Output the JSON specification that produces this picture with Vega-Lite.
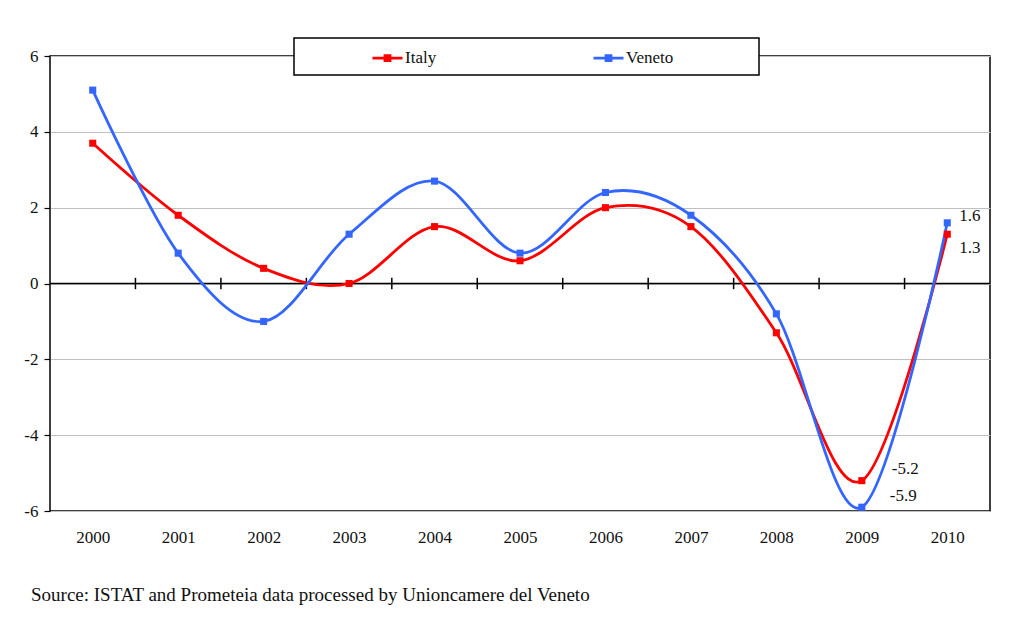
{
  "$schema": "https://vega.github.io/schema/vega-lite/v6.json",
  "width": 940,
  "height": 455,
  "autosize": "none",
  "padding": {"left": 50, "top": 56, "right": 31, "bottom": 117},
  "background": "white",
  "config": {
    "view": {"stroke": "#000", "strokeWidth": 1.5},
    "font": "Liberation Serif",
    "axis": {"labelFont": "Liberation Serif", "labelFontSize": 17, "labelColor": "#111"},
    "legend": {"labelFont": "Liberation Serif"},
    "text": {"font": "Liberation Serif"}
  },
  "title": {
    "text": "Source: ISTAT and Prometeia data processed by Unioncamere del Veneto",
    "orient": "bottom",
    "anchor": "start",
    "frame": "group",
    "dx": -19,
    "offset": 41,
    "fontSize": 19,
    "font": "Liberation Serif",
    "fontWeight": "normal",
    "color": "#111"
  },
  "datasets": {
    "series": [
      {"year": 2000, "series": "Italy", "value": 3.7},
      {"year": 2001, "series": "Italy", "value": 1.8},
      {"year": 2002, "series": "Italy", "value": 0.4},
      {"year": 2003, "series": "Italy", "value": 0.0},
      {"year": 2004, "series": "Italy", "value": 1.5},
      {"year": 2005, "series": "Italy", "value": 0.6},
      {"year": 2006, "series": "Italy", "value": 2.0},
      {"year": 2007, "series": "Italy", "value": 1.5},
      {"year": 2008, "series": "Italy", "value": -1.3},
      {"year": 2009, "series": "Italy", "value": -5.2},
      {"year": 2010, "series": "Italy", "value": 1.3},
      {"year": 2000, "series": "Veneto", "value": 5.1},
      {"year": 2001, "series": "Veneto", "value": 0.8},
      {"year": 2002, "series": "Veneto", "value": -1.0},
      {"year": 2003, "series": "Veneto", "value": 1.3},
      {"year": 2004, "series": "Veneto", "value": 2.7},
      {"year": 2005, "series": "Veneto", "value": 0.8},
      {"year": 2006, "series": "Veneto", "value": 2.4},
      {"year": 2007, "series": "Veneto", "value": 1.8},
      {"year": 2008, "series": "Veneto", "value": -0.8},
      {"year": 2009, "series": "Veneto", "value": -5.9},
      {"year": 2010, "series": "Veneto", "value": 1.6}
    ],
    "ticks": [
      {"b": 2000.5}, {"b": 2001.5}, {"b": 2002.5}, {"b": 2003.5}, {"b": 2004.5},
      {"b": 2005.5}, {"b": 2006.5}, {"b": 2007.5}, {"b": 2008.5}, {"b": 2009.5}
    ]
  },
  "layer": [
    {
      "data": {"name": "ticks"},
      "mark": {"type": "rule", "color": "#000", "strokeWidth": 1.5},
      "encoding": {
        "x": {"field": "b", "type": "quantitative", "title": null,
          "scale": {"domain": [1999.5, 2010.5], "nice": false, "zero": false},
          "axis": {"values": [2000, 2001, 2002, 2003, 2004, 2005, 2006, 2007, 2008, 2009, 2010],
            "format": "d", "ticks": false, "domain": false, "grid": false, "labelPadding": 18,
            "labelFontSize": 17, "labelFont": "Liberation Serif", "labelColor": "#111", "title": null}},
        "y": {"datum": -0.15, "type": "quantitative", "title": null,
          "scale": {"domain": [-6, 6], "nice": false, "zero": false},
          "axis": {"values": [-6, -4, -2, 0, 2, 4, 6], "grid": true, "gridColor": "#c0c0c0", "gridWidth": 1,
            "domain": false, "tickColor": "#000", "tickSize": 6, "tickWidth": 1.2, "labelPadding": 6,
            "labelExpr": "replace(datum.label, '\u2212', '-')",
            "labelFontSize": 17, "labelFont": "Liberation Serif", "labelColor": "#111", "title": null}},
        "y2": {"datum": 0.15}
      }
    },
    {
      "data": {"values": [{"v": 0}]},
      "mark": {"type": "rule", "color": "#000", "strokeWidth": 1.5},
      "encoding": {
        "y": {"field": "v", "type": "quantitative", "title": null}
      }
    },
    {
      "data": {"name": "series"},
      "mark": {"type": "line", "interpolate": "cardinal", "tension": 0, "strokeWidth": 2.8},
      "encoding": {
        "x": {"field": "year", "type": "quantitative", "title": null},
        "y": {"field": "value", "type": "quantitative", "title": null},
        "color": {"field": "series", "type": "nominal",
          "scale": {"domain": ["Italy", "Veneto"], "range": ["#ff0000", "#3366ff"]},
          "legend": {
            "orient": "none", "legendX": 244, "legendY": -18, "direction": "horizontal", "title": null,
            "fillColor": "#fff", "strokeColor": "#000", "padding": 8.5,
            "symbolType": "M-1.5,0H1.5M-0.25,-0.25H0.25V0.25H-0.25Z", "symbolSize": 400, "symbolStrokeWidth": 2.8,
            "symbolOffset": 73.5, "labelOffset": 6, "labelFontSize": 17, "labelFont": "Liberation Serif",
            "labelColor": "#111", "columnPadding": 87,
            "labelExpr": "datum.label == 'Veneto' ? datum.label + '\u00a0\u00a0\u00a0\u00a0\u00a0\u00a0\u00a0\u00a0\u00a0\u00a0\u00a0\u00a0\u00a0\u00a0\u00a0\u00a0\u00a0\u00a0\u200b' : datum.label",
            "encode": {
              "symbols": {"update": {"fill": {"signal": "scale('color', datum.value)"}, "stroke": {"signal": "scale('color', datum.value)"}, "opacity": {"value": 1}}},
              "legend": {"update": {"strokeWidth": {"value": 1.5}}}
            }
          }}
      }
    },
    {
      "data": {"name": "series"},
      "mark": {"type": "square", "size": 50, "filled": true, "opacity": 1},
      "encoding": {
        "x": {"field": "year", "type": "quantitative", "title": null},
        "y": {"field": "value", "type": "quantitative", "title": null},
        "color": {"field": "series", "type": "nominal"}
      }
    },
    {
      "data": {"name": "series"},
      "transform": [{"filter": "datum.year == 2010 && datum.series == 'Veneto'"}],
      "mark": {"type": "text", "align": "left", "baseline": "middle", "dx": 12, "dy": -7, "fontSize": 17, "font": "Liberation Serif", "color": "#111",
        "text": {"expr": "replace(format(datum.value, '.1f'), '\u2212', '-')"}},
      "encoding": {
        "x": {"field": "year", "type": "quantitative", "title": null},
        "y": {"field": "value", "type": "quantitative", "title": null}
      }
    },
    {
      "data": {"name": "series"},
      "transform": [{"filter": "datum.year == 2010 && datum.series == 'Italy'"}],
      "mark": {"type": "text", "align": "left", "baseline": "middle", "dx": 12, "dy": 14, "fontSize": 17, "font": "Liberation Serif", "color": "#111",
        "text": {"expr": "replace(format(datum.value, '.1f'), '\u2212', '-')"}},
      "encoding": {
        "x": {"field": "year", "type": "quantitative", "title": null},
        "y": {"field": "value", "type": "quantitative", "title": null}
      }
    },
    {
      "data": {"name": "series"},
      "transform": [{"filter": "datum.year == 2009 && datum.series == 'Italy'"}],
      "mark": {"type": "text", "align": "left", "baseline": "middle", "dx": 30, "dy": -12, "fontSize": 17, "font": "Liberation Serif", "color": "#111",
        "text": {"expr": "replace(format(datum.value, '.1f'), '\u2212', '-')"}},
      "encoding": {
        "x": {"field": "year", "type": "quantitative", "title": null},
        "y": {"field": "value", "type": "quantitative", "title": null}
      }
    },
    {
      "data": {"name": "series"},
      "transform": [{"filter": "datum.year == 2009 && datum.series == 'Veneto'"}],
      "mark": {"type": "text", "align": "left", "baseline": "middle", "dx": 28, "dy": -11, "fontSize": 17, "font": "Liberation Serif", "color": "#111",
        "text": {"expr": "replace(format(datum.value, '.1f'), '\u2212', '-')"}},
      "encoding": {
        "x": {"field": "year", "type": "quantitative", "title": null},
        "y": {"field": "value", "type": "quantitative", "title": null}
      }
    }
  ]
}
